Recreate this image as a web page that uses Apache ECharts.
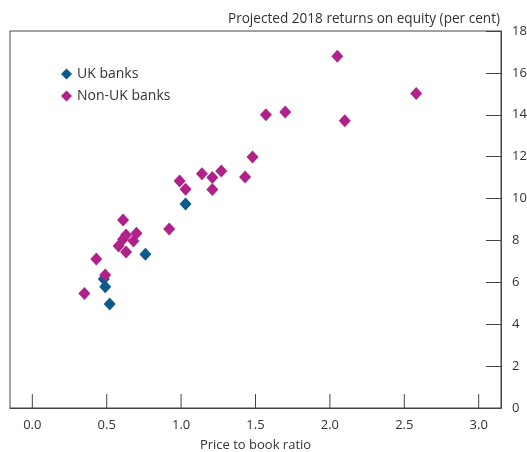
<!DOCTYPE html>
<html>
<head>
<meta charset="utf-8">
<script src="https://cdn.jsdelivr.net/npm/echarts@6/dist/echarts.min.js"></script>
<style>
    html, body { margin: 0; padding: 0; background: #fff; }
    #roeChart { width: 527px; height: 452px; }
</style>
</head>
<body>
<div id="roeChart"></div>
<script>
// price to book ratio vs projected 2018 RoE
var ukBanks = [
    [1.03, 9.74], [0.76, 7.34], [0.48, 6.16], [0.49, 5.79], [0.52, 4.97]
];
var nonUkBanks = [
    [2.05, 16.79], [2.58, 15.01], [1.57, 14.0], [1.70, 14.13], [2.10, 13.72],
    [1.48, 11.99], [1.14, 11.19], [1.27, 11.32], [1.21, 11.0], [1.43, 11.03],
    [0.99, 10.84], [1.03, 10.45], [1.21, 10.43], [0.92, 8.55], [0.61, 8.98],
    [0.70, 8.34], [0.63, 8.26], [0.61, 8.06], [0.68, 7.97], [0.58, 7.73],
    [0.63, 7.45], [0.43, 7.12], [0.49, 6.35], [0.35, 5.47]
];
var xTicks = [0, 0.5, 1, 1.5, 2, 2.5, 3];
var seriesNames = ['UK banks', 'Non-UK banks'];

var fontName = '"Open Sans", "Noto Sans", sans-serif';
var lineColor = '#444';

var chart = echarts.init(document.getElementById('roeChart'));

// x ticks point up from the bottom axis; drawn through the axis scale
var xTickData = xTicks.map(function(v) {
    return [v, 0];
});
function renderXTick(params, api) {
    var p = api.coord([api.value(0), api.value(1)]);
    return {
        type : 'line',
        shape : { x1 : p[0], y1 : p[1], x2 : p[0], y2 : p[1] - 14 },
        style : { stroke : lineColor, lineWidth : 1 }
    };
}

var option = {
    animation : false,
    textStyle : {
        fontFamily : fontName
    },
    title : {
        text : 'Projected 2018 returns on equity (per cent)',
        right : 22,
        top : 7,
        textStyle : {
            fontSize : 13.6,
            fontWeight : 'normal',
            color : '#333',
            fontFamily : fontName
        }
    },
    legend : {
        data : seriesNames,
        orient : 'vertical',
        left : 56,
        top : 62,
        itemWidth : 11,
        itemHeight : 11,
        itemGap : 8,
        textStyle : {
            fontSize : 14,
            color : '#333',
            fontFamily : fontName
        }
    },
    grid : {
        left : 10,
        right : 26,
        top : 31,
        bottom : 44,
        outerBoundsMode : 'none',
        containLabel : false,
        show : true,
        borderColor : lineColor,
        borderWidth : 1
    },
    xAxis : {
        type : 'value',
        min : -0.15,
        max : 3.15,
        name : 'Price to book ratio',
        nameLocation : 'middle',
        nameGap : 31,
        nameTextStyle : {
            fontSize : 13,
            color : '#333'
        },
        axisLine : {
            show : true,
            onZero : false,
            lineStyle : { color : lineColor }
        },
        axisTick : { show : false },
        axisLabel : {
            customValues : xTicks,
            fontSize : 13,
            color : '#333',
            margin : 11,
            formatter : function(value) {
                return value.toFixed(1);
            }
        },
        splitLine : { show : false }
    },
    yAxis : {
        type : 'value',
        position : 'right',
        min : 0,
        max : 18,
        interval : 2,
        axisLine : {
            show : true,
            onZero : false,
            lineStyle : { color : lineColor }
        },
        axisTick : {
            show : true,
            inside : true,
            length : 15,
            lineStyle : { color : lineColor }
        },
        axisLabel : {
            fontSize : 13,
            color : '#333',
            margin : 11
        },
        splitLine : { show : false }
    },
    series : [ {
        name : 'xTicks',
        type : 'custom',
        silent : true,
        renderItem : renderXTick,
        data : xTickData
    }, {
        name : seriesNames[0],
        type : 'scatter',
        symbol : 'diamond',
        symbolSize : [12, 13],
        itemStyle : { color : '#0b5a8e', opacity : 1 },
        data : ukBanks
    }, {
        name : seriesNames[1],
        type : 'scatter',
        symbol : 'diamond',
        symbolSize : [12, 13],
        itemStyle : { color : '#b0218a', opacity : 1 },
        data : nonUkBanks
    } ]
};
chart.setOption(option);
</script>
</body>
</html>
